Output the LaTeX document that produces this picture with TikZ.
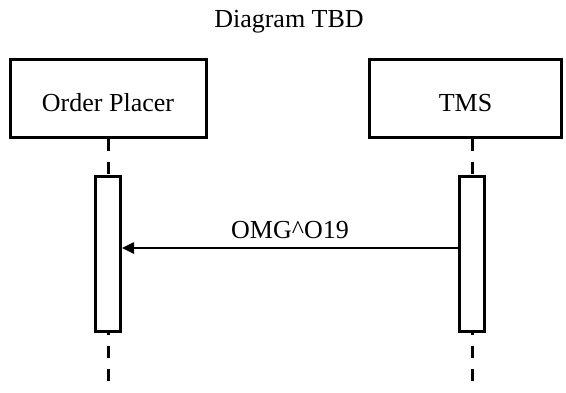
\documentclass[tikz,border=0pt]{standalone}
\usepackage{fontspec}
\setmainfont{Liberation Serif}
\usetikzlibrary{arrows.meta}
\definecolor{line_black}{RGB}{0,0,0}
\newcommand\bigtext{\fontsize{26}{30}\selectfont}

\begin{document}
\begin{tikzpicture}[x=1pt,y=-1pt,>={Triangle[length=12pt,width=11pt]}]
    \tikzstyle{actor}=[draw=line_black, line width=3pt, rectangle, minimum height=78pt, fill=white, font=\bigtext, text height=25pt, text depth=0pt, inner sep=0pt]
    \tikzstyle{act}=[draw=line_black, line width=3pt, rectangle, minimum width=25pt, minimum height=155pt, fill=white, inner sep=0pt]
    \tikzstyle{life}=[draw=line_black, line width=3pt, dash pattern=on 12pt off 11pt]
    \tikzstyle{msg}=[->, draw=line_black, line width=2.5pt]

    \useasboundingbox (0,0) rectangle (566,392);

    \node[font=\bigtext, anchor=base] (title) at (289,27) {Diagram TBD};

    \node[actor, minimum width=196pt] (placer) at (108,98.5)   {Order Placer};
    \node[actor, minimum width=192pt] (tms)    at (465.5,98.5) {TMS};

    \coordinate (placerend) at (108,392);
    \coordinate (tmsend)    at (472,392);
    \path
     (placer.south) edge[life] (placerend)
     (tms.south -| tmsend) edge[life] (tmsend)
     ;

    \node[act] (placeract) at (108,254) {};
    \node[act] (tmsact)    at (472,254) {};

    \coordinate (m1) at (290,248);
    \draw[msg] (tmsact.west |- m1) -- (placeract.east |- m1)
      node[midway, above=8pt, inner sep=0pt, font=\bigtext] (m1label) {OMG\textasciicircum O19};
\end{tikzpicture}
\end{document}
